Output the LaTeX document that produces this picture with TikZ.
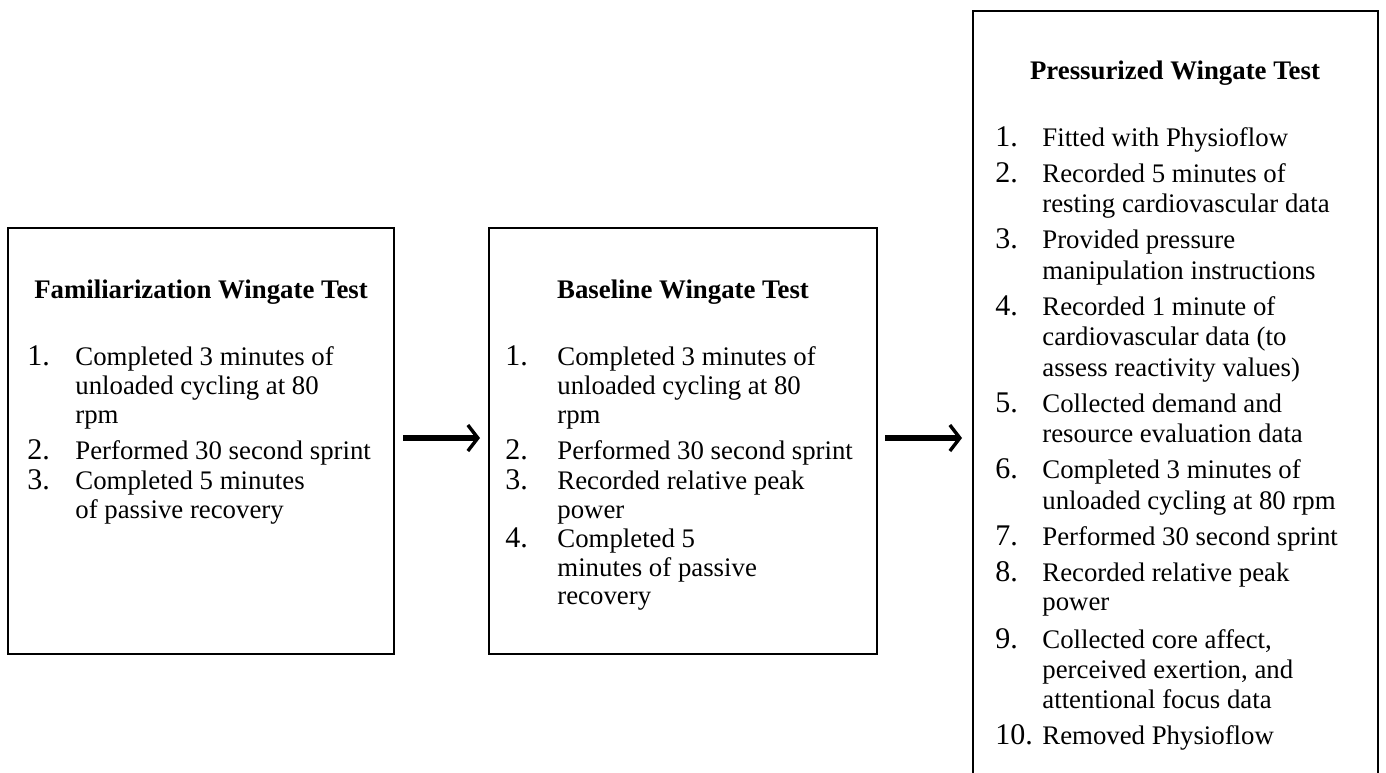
\documentclass[tikz,border=0pt]{standalone}
\usepackage{fontspec}
\setmainfont{Liberation Serif}
\usetikzlibrary{arrows.meta}
\begin{document}
\begin{tikzpicture}[x=0.5pt,y=-0.5pt,
  box/.style={draw, line width=1pt, inner sep=0pt, outer sep=0pt},
  ttl/.style={anchor=base, inner sep=0pt, font=\bfseries\fontsize{13.4}{16}\selectfont},
  num/.style={anchor=base west, inner sep=0pt, font=\fontsize{15}{17}\selectfont},
  txt/.style={anchor=base west, inner sep=0pt, font=\fontsize{13.4}{16}\selectfont},
  arr/.style={line width=2.8pt, -{Straight Barb[length=5pt,width=13pt,line width=1.7pt]}}]
\useasboundingbox (0,0) rectangle (1386,772);
\clip (0,0) rectangle (1386,772);
% boxes
\node[box, minimum width=193pt, minimum height=213pt] (b1) at (201,441) {};
\node[box, minimum width=194pt, minimum height=213pt] (b2) at (683,441) {};
\node[box, minimum width=202.5pt, minimum height=389.5pt] (b3) at (1175.5,400.5) {};
% box 1
\node[ttl] (b1t) at (201,298) {Familiarization Wingate Test};
\node[num] (b1n1) at (27,365) {1.};
\node[txt] (b1i1a) at (75,365) {Completed 3 minutes of};
\node[txt] (b1i1b) at (75,394) {unloaded cycling at 80};
\node[txt] (b1i1c) at (75,423) {rpm};
\node[num] (b1n2) at (27,459) {2.};
\node[txt] (b1i2a) at (75,459) {Performed 30 second sprint};
\node[num] (b1n3) at (27,489) {3.};
\node[txt] (b1i3a) at (75,489) {Completed 5 minutes};
\node[txt] (b1i3b) at (75,518) {of passive recovery};
% box 2
\node[ttl] (b2t) at (683,298) {Baseline Wingate Test};
\node[num] (b2n1) at (505,365) {1.};
\node[txt] (b2i1a) at (557,365) {Completed 3 minutes of};
\node[txt] (b2i1b) at (557,394) {unloaded cycling at 80};
\node[txt] (b2i1c) at (557,423) {rpm};
\node[num] (b2n2) at (505,459) {2.};
\node[txt] (b2i2a) at (557,459) {Performed 30 second sprint};
\node[num] (b2n3) at (505,489) {3.};
\node[txt] (b2i3a) at (557,489) {Recorded relative peak};
\node[txt] (b2i3b) at (557,518) {power};
\node[num] (b2n4) at (505,547) {4.};
\node[txt] (b2i4a) at (557,547) {Completed 5};
\node[txt] (b2i4b) at (557,576) {minutes of passive};
\node[txt] (b2i4c) at (557,604) {recovery};
% box 3
\node[ttl] (b3t) at (1175,79) {Pressurized Wingate Test};
\node[num] (b3n1) at (995,146) {1.};
\node[txt] (b3i1a) at (1042,146) {Fitted with Physioflow};
\node[num] (b3n2) at (995,182) {2.};
\node[txt] (b3i2a) at (1042,182) {Recorded 5 minutes of};
\node[txt] (b3i2b) at (1042,212.5) {resting cardiovascular data};
\node[num] (b3n3) at (995,248.5) {3.};
\node[txt] (b3i3a) at (1042,248.5) {Provided pressure};
\node[txt] (b3i3b) at (1042,279) {manipulation instructions};
\node[num] (b3n4) at (995,315) {4.};
\node[txt] (b3i4a) at (1042,315) {Recorded 1 minute of};
\node[txt] (b3i4b) at (1042,345.5) {cardiovascular data (to};
\node[txt] (b3i4c) at (1042,376) {assess reactivity values)};
\node[num] (b3n5) at (995,412) {5.};
\node[txt] (b3i5a) at (1042,412) {Collected demand and};
\node[txt] (b3i5b) at (1042,442.5) {resource evaluation data};
\node[num] (b3n6) at (995,478.5) {6.};
\node[txt] (b3i6a) at (1042,478.5) {Completed 3 minutes of};
\node[txt] (b3i6b) at (1042,509) {unloaded cycling at 80 rpm};
\node[num] (b3n7) at (995,545) {7.};
\node[txt] (b3i7a) at (1042,545) {Performed 30 second sprint};
\node[num] (b3n8) at (995,581) {8.};
\node[txt] (b3i8a) at (1042,581) {Recorded relative peak};
\node[txt] (b3i8b) at (1042,610) {power};
\node[num] (b3n9) at (995,648) {9.};
\node[txt] (b3i9a) at (1042,648) {Collected core affect,};
\node[txt] (b3i9b) at (1042,678) {perceived exertion, and};
\node[txt] (b3i9c) at (1042,708.5) {attentional focus data};
\node[num] (b3n10) at (995,744.5) {10.};
\node[txt] (b3i10a) at (1042,744.5) {Removed Physioflow};
% arrows
\coordinate (a2end) at (b2.east -| b3.west);
\draw[arr] ([shift={(9,-3)}]b1.east) -- ([shift={(-9,-3)}]b2.west);
\draw[arr] ([shift={(8,-3)}]b2.east) -- ([shift={(-11,-3)}]a2end);
\end{tikzpicture}
\end{document}
